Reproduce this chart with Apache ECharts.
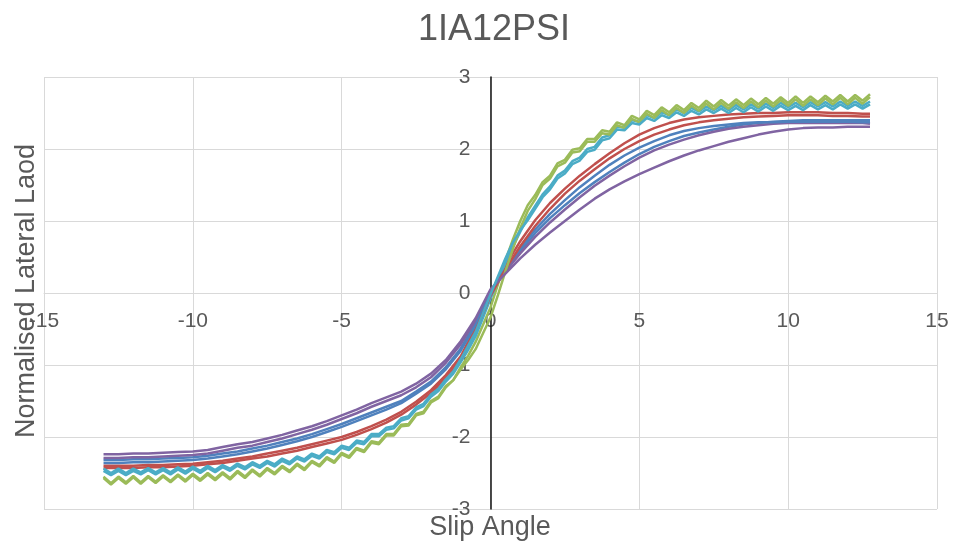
<!DOCTYPE html>
<html>
<head>
<meta charset="utf-8">
<script src="https://cdn.jsdelivr.net/npm/echarts@6/dist/echarts.min.js"></script>
<style>
html,body{margin:0;padding:0;background:#fff;}
#chart{width:955px;height:546px;}
</style>
</head>
<body>
<div id="chart"></div>
<script>
// Title and axis texts
var chartTitle = '1IA12PSI';
var xAxisTitle = 'Slip Angle';
var yAxisTitle = 'Normalised Lateral Laod';

// Axis ticks
var xTicks = [-15, -10, -5, 0, 5, 10, 15];
var yTicks = [-3, -2, -1, 0, 1, 2, 3];

// Slip angle samples (deg)
var xFine = [-13,-12.75,-12.5,-12.25,-12,-11.75,-11.5,-11.25,-11,-10.75,-10.5,-10.25,-10,-9.75,-9.5,-9.25,-9,-8.75,-8.5,-8.25,-8,-7.75,-7.5,-7.25,-7,-6.75,-6.5,-6.25,-6,-5.75,-5.5,-5.25,-5,-4.75,-4.5,-4.25,-4,-3.75,-3.5,-3.25,-3,-2.75,-2.5,-2.25,-2,-1.75,-1.5,-1.25,-1,-0.75,-0.5,-0.25,0,0.25,0.5,0.75,1,1.25,1.5,1.75,2,2.25,2.5,2.75,3,3.25,3.5,3.75,4,4.25,4.5,4.75,5,5.25,5.5,5.75,6,6.25,6.5,6.75,7,7.25,7.5,7.75,8,8.25,8.5,8.75,9,9.25,9.5,9.75,10,10.25,10.5,10.75,11,11.25,11.5,11.75,12,12.25,12.5,12.75];
var xCoarse = [-13,-12.5,-12,-11.5,-11,-10.5,-10,-9.5,-9,-8.5,-8,-7.5,-7,-6.5,-6,-5.5,-5,-4.5,-4,-3.5,-3,-2.5,-2,-1.5,-1,-0.5,0,0.5,1,1.5,2,2.5,3,3.5,4,4.5,5,5.5,6,6.5,7,7.5,8,8.5,9,9.5,10,10.5,11,11.5,12,12.5,12.75];

// Normalised lateral load per run
var blue1 = [-2.32,-2.32,-2.31,-2.31,-2.30,-2.29,-2.28,-2.26,-2.23,-2.20,-2.16,-2.12,-2.07,-2.02,-1.96,-1.89,-1.82,-1.74,-1.66,-1.58,-1.50,-1.37,-1.23,-1.03,-0.77,-0.42,
  0.00,0.30,0.58,0.83,1.04,1.22,1.39,1.54,1.68,1.81,1.93,2.03,2.11,2.18,2.23,2.27,2.31,2.34,2.36,2.38,2.39,2.40,2.40,2.40,2.40,2.40,2.40];
var red1 = [-2.40,-2.40,-2.40,-2.39,-2.39,-2.38,-2.37,-2.35,-2.33,-2.30,-2.27,-2.23,-2.19,-2.15,-2.10,-2.05,-2.00,-1.93,-1.85,-1.76,-1.65,-1.51,-1.35,-1.14,-0.88,-0.48,
  0.00,0.38,0.72,1.01,1.25,1.45,1.63,1.79,1.94,2.08,2.20,2.29,2.36,2.41,2.44,2.46,2.48,2.49,2.50,2.50,2.51,2.51,2.51,2.50,2.50,2.49,2.49];
var green1 = [-2.57,-2.66,-2.57,-2.65,-2.56,-2.65,-2.56,-2.64,-2.55,-2.63,-2.54,-2.62,-2.53,-2.61,-2.52,-2.60,-2.51,-2.59,-2.49,-2.57,-2.47,-2.55,-2.45,-2.52,-2.42,-2.49,-2.39,-2.46,-2.35,-2.41,-2.30,-2.36,-2.24,-2.29,-2.17,-2.21,-2.08,-2.10,-1.98,-1.98,-1.85,-1.84,-1.70,-1.67,-1.52,-1.46,-1.31,-1.21,-1.03,-0.87,-0.68,-0.44,
  -0.20,0.12,0.45,0.74,1.00,1.22,1.36,1.54,1.63,1.80,1.85,1.99,2.01,2.14,2.14,2.26,2.24,2.37,2.33,2.46,2.41,2.53,2.47,2.58,2.51,2.61,2.54,2.64,2.57,2.67,2.59,2.68,2.60,2.69,2.61,2.70,2.62,2.71,2.63,2.72,2.64,2.73,2.64,2.73,2.65,2.74,2.66,2.75,2.66,2.75,2.67,2.76];
var purple1 = [-2.29,-2.29,-2.28,-2.28,-2.27,-2.26,-2.25,-2.23,-2.19,-2.15,-2.12,-2.07,-2.02,-1.96,-1.90,-1.83,-1.75,-1.67,-1.58,-1.50,-1.42,-1.31,-1.17,-0.97,-0.71,-0.38,
  0.03,0.30,0.55,0.78,0.98,1.16,1.33,1.49,1.63,1.76,1.88,1.98,2.06,2.13,2.19,2.24,2.28,2.31,2.33,2.35,2.36,2.36,2.36,2.36,2.36,2.36,2.35];
var cyan1 = [-2.47,-2.53,-2.47,-2.53,-2.47,-2.52,-2.46,-2.52,-2.46,-2.52,-2.45,-2.51,-2.44,-2.50,-2.43,-2.49,-2.42,-2.47,-2.40,-2.45,-2.38,-2.43,-2.36,-2.41,-2.33,-2.38,-2.30,-2.34,-2.26,-2.30,-2.21,-2.24,-2.15,-2.18,-2.08,-2.10,-1.99,-1.99,-1.90,-1.88,-1.77,-1.74,-1.62,-1.57,-1.44,-1.36,-1.23,-1.12,-0.96,-0.79,-0.60,-0.34,
  -0.08,0.17,0.42,0.64,0.85,1.05,1.21,1.37,1.48,1.63,1.70,1.83,1.88,2.00,2.03,2.16,2.19,2.31,2.30,2.40,2.38,2.47,2.43,2.51,2.47,2.55,2.50,2.57,2.52,2.59,2.54,2.60,2.54,2.61,2.55,2.62,2.56,2.63,2.57,2.64,2.58,2.64,2.58,2.65,2.59,2.65,2.59,2.66,2.60,2.66,2.60,2.66];
var blue2 = [-2.36,-2.36,-2.35,-2.35,-2.34,-2.33,-2.32,-2.30,-2.27,-2.24,-2.20,-2.16,-2.11,-2.06,-2.00,-1.93,-1.86,-1.78,-1.70,-1.62,-1.53,-1.40,-1.26,-1.06,-0.80,-0.45,
  0.02,0.33,0.62,0.88,1.10,1.29,1.47,1.63,1.78,1.91,2.02,2.11,2.19,2.25,2.29,2.32,2.34,2.36,2.37,2.37,2.38,2.38,2.38,2.38,2.38,2.37,2.37];
var red2 = [-2.43,-2.43,-2.43,-2.42,-2.42,-2.41,-2.40,-2.38,-2.36,-2.33,-2.30,-2.27,-2.23,-2.19,-2.14,-2.09,-2.04,-1.97,-1.89,-1.80,-1.69,-1.55,-1.39,-1.18,-0.92,-0.52,
  -0.04,0.33,0.65,0.93,1.17,1.38,1.56,1.72,1.87,2.00,2.11,2.20,2.27,2.33,2.37,2.40,2.42,2.44,2.45,2.46,2.47,2.47,2.47,2.46,2.46,2.45,2.45];
var green2 = [-2.55,-2.64,-2.55,-2.63,-2.54,-2.63,-2.54,-2.62,-2.53,-2.61,-2.52,-2.60,-2.51,-2.59,-2.50,-2.58,-2.49,-2.57,-2.47,-2.55,-2.45,-2.53,-2.43,-2.50,-2.40,-2.47,-2.37,-2.44,-2.33,-2.39,-2.28,-2.34,-2.22,-2.27,-2.15,-2.19,-2.06,-2.08,-1.96,-1.96,-1.83,-1.82,-1.68,-1.65,-1.50,-1.44,-1.29,-1.21,-1.06,-0.93,-0.78,-0.56,
  -0.34,-0.03,0.30,0.61,0.90,1.14,1.30,1.50,1.59,1.76,1.81,1.95,1.97,2.10,2.10,2.22,2.20,2.33,2.29,2.42,2.37,2.49,2.43,2.54,2.47,2.57,2.50,2.60,2.53,2.63,2.55,2.64,2.56,2.65,2.57,2.66,2.58,2.67,2.59,2.68,2.60,2.69,2.60,2.69,2.61,2.70,2.62,2.71,2.62,2.71,2.63,2.72];
var purple2 = [-2.24,-2.24,-2.23,-2.23,-2.22,-2.21,-2.20,-2.18,-2.14,-2.10,-2.07,-2.02,-1.97,-1.91,-1.85,-1.78,-1.70,-1.62,-1.53,-1.45,-1.37,-1.26,-1.12,-0.93,-0.67,-0.35,
  0.05,0.27,0.48,0.67,0.84,1.00,1.16,1.31,1.44,1.55,1.65,1.74,1.83,1.91,1.98,2.04,2.10,2.15,2.20,2.24,2.27,2.29,2.30,2.30,2.31,2.31,2.31];
var cyan2 = [-2.44,-2.50,-2.44,-2.50,-2.44,-2.49,-2.43,-2.49,-2.43,-2.49,-2.42,-2.48,-2.41,-2.47,-2.40,-2.46,-2.39,-2.44,-2.37,-2.42,-2.35,-2.40,-2.33,-2.38,-2.30,-2.35,-2.27,-2.31,-2.23,-2.27,-2.18,-2.21,-2.12,-2.15,-2.05,-2.07,-1.96,-1.96,-1.87,-1.85,-1.74,-1.71,-1.59,-1.54,-1.41,-1.33,-1.20,-1.09,-0.92,-0.73,-0.54,-0.28,
  -0.02,0.23,0.48,0.70,0.87,1.01,1.17,1.33,1.44,1.59,1.66,1.79,1.84,1.96,1.99,2.12,2.15,2.27,2.26,2.36,2.34,2.43,2.39,2.47,2.43,2.51,2.46,2.53,2.48,2.55,2.50,2.56,2.50,2.57,2.51,2.58,2.52,2.59,2.53,2.60,2.54,2.60,2.54,2.61,2.55,2.61,2.55,2.62,2.56,2.62,2.56,2.62];

var runs = [
  {name: 'Run 1', color: '#4F81BD', xs: xCoarse, ys: blue1},
  {name: 'Run 2', color: '#C0504D', xs: xCoarse, ys: red1},
  {name: 'Run 3', color: '#9BBB59', xs: xFine, ys: green1},
  {name: 'Run 4', color: '#8064A2', xs: xCoarse, ys: purple1},
  {name: 'Run 5', color: '#4BACC6', xs: xFine, ys: cyan1},
  {name: 'Run 6', color: '#4F81BD', xs: xCoarse, ys: blue2},
  {name: 'Run 7', color: '#C0504D', xs: xCoarse, ys: red2},
  {name: 'Run 8', color: '#9BBB59', xs: xFine, ys: green2},
  {name: 'Run 9', color: '#8064A2', xs: xCoarse, ys: purple2},
  {name: 'Run 10', color: '#4BACC6', xs: xFine, ys: cyan2}
];

var FONT = '"Liberation Sans", Arial, sans-serif';
var TXT = '#595959';
var GRIDC = '#d9d9d9';

var chart = echarts.init(document.getElementById('chart'), null, {renderer: 'canvas'});
chart.setOption({
  animation: false,
  backgroundColor: '#ffffff',
  title: {
    text: chartTitle,
    left: 413,
    top: 7,
    textStyle: {fontFamily: FONT, fontSize: 36, fontWeight: 'normal', color: TXT}
  },
  grid: {left: 44, right: 18, top: 77, bottom: 37, containLabel: false},
  xAxis: {
    type: 'value',
    min: xTicks[0],
    max: xTicks[xTicks.length - 1],
    interval: xTicks[1] - xTicks[0],
    offset: -216,
    axisLine: {onZero: false, lineStyle: {color: GRIDC, width: 1}},
    axisTick: {show: false},
    axisLabel: {color: TXT, fontSize: 21, fontFamily: FONT, margin: 18},
    splitLine: {show: true, lineStyle: {color: GRIDC, width: 1}}
  },
  yAxis: {
    type: 'value',
    min: yTicks[0],
    max: yTicks[yTicks.length - 1],
    interval: yTicks[1] - yTicks[0],
    offset: -446.5,
    axisLine: {onZero: false, lineStyle: {color: '#111111', width: 1.5}},
    axisTick: {show: false},
    axisLabel: {color: TXT, fontSize: 21, fontFamily: FONT, margin: 20},
    splitLine: {show: true, lineStyle: {color: GRIDC, width: 1}},
    z: 1
  },
  graphic: [
    {type: 'text', x: 27, y: 291, rotation: Math.PI / 2,
     style: {text: yAxisTitle, fontSize: 27, fontFamily: FONT, fill: TXT, align: 'center', verticalAlign: 'middle'}},
    {type: 'text', x: 490, y: 528,
     style: {text: xAxisTitle, fontSize: 27, fontFamily: FONT, fill: TXT, align: 'center', verticalAlign: 'middle'}}
  ],
  series: runs.map(function (r) {
    return {
      name: r.name,
      type: 'line',
      data: r.xs.map(function (x, i) { return [x, r.ys[i]]; }),
      showSymbol: false,
      symbol: 'none',
      smooth: false,
      lineStyle: {color: r.color, width: 2.5},
      itemStyle: {color: r.color},
      z: 2
    };
  })
});
</script>
</body>
</html>
